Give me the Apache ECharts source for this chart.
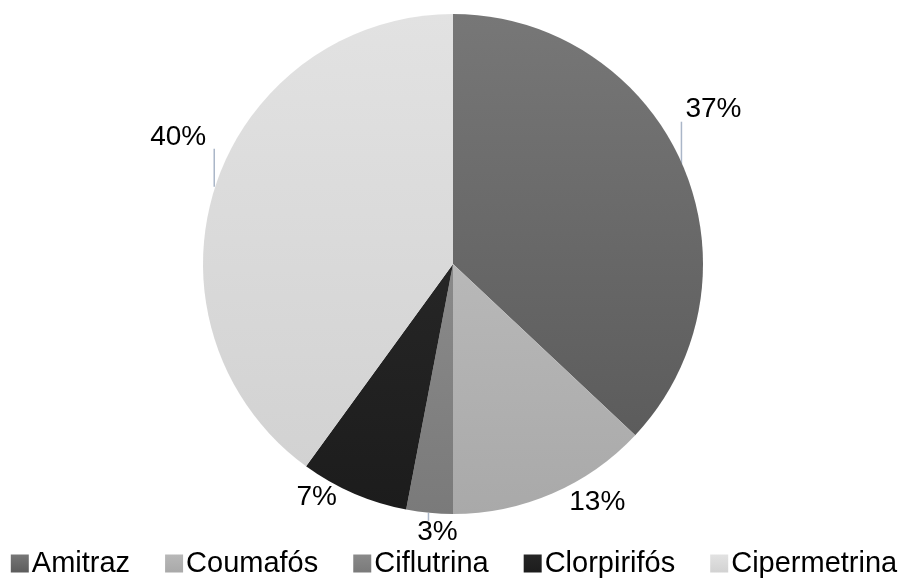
<!DOCTYPE html>
<html><head><meta charset="utf-8">
<script src="https://cdn.jsdelivr.net/npm/echarts@6/dist/echarts.min.js"></script>
<style>html,body{margin:0;padding:0;background:#fff}#c{width:908px;height:582px}</style>
</head><body><div id="c"></div>
<script>
var categories = ['Amitraz', 'Coumafós', 'Ciflutrina', 'Clorpirifós', 'Cipermetrina'];
var values = [37, 13, 3, 7, 40];
var topColors = ['#777777', '#b8b8b8', '#8a8a8a', '#262626', '#e2e2e2'];
var bottomColors = ['#5c5c5c', '#a9a9a9', '#7a7a7a', '#1c1c1c', '#d2d2d2'];

// label placement relative to the slice's outer mid-point (style only)
var labelOffsets = [[31, -55], [45, 9], [8, 19], [-37, 4], [-37, -49]];
var leaderLen = [43, 0, 8, 0, 38];
var leaderDir = [-1, 0, 1, 0, -1];

var CX = 453, CY = 264, R = 250;
var total = values.reduce(function (a, b) { return a + b; }, 0);
function edgePoint(i) {
  var before = 0;
  for (var k = 0; k < i; k++) before += values[k];
  var a = (before + values[i] / 2) / total * 2 * Math.PI; // clockwise from top
  return [CX + R * Math.sin(a), CY - R * Math.cos(a)];
}

var chart = echarts.init(document.getElementById('c'));
var data = categories.map(function (n, i) {
  return {
    name: n, value: values[i],
    itemStyle: {
      color: new echarts.graphic.LinearGradient(0, 0, 0, 1, [
        {offset: 0, color: topColors[i]}, {offset: 1, color: bottomColors[i]}
      ])
    }
  };
});
chart.setOption({
  animation: false,
  legend: {
    data: categories,
    top: 544,
    left: 'center',
    itemWidth: 18, itemHeight: 18,
    itemGap: 35,
    icon: 'rect',
    textStyle: {fontFamily: 'Liberation Sans, Arial', fontSize: 29, color: '#000', padding: [0, 0, 0, -2]}
  },
  series: [{
    type: 'pie',
    center: [CX, CY],
    radius: [0, R],
    startAngle: 90,
    clockwise: true,
    data: data,
    itemStyle: {borderWidth: 0},
    label: {
      show: true,
      position: 'outside',
      formatter: '{d}%',
      fontFamily: 'Liberation Sans, Arial',
      fontSize: 28,
      color: '#000'
    },
    labelLine: {show: true, length: 12, length2: 4, lineStyle: {color: '#aab6c8', width: 1.5}},
    labelLayout: function (p) {
      var i = p.dataIndex;
      var e = edgePoint(i);
      var o = labelOffsets[i];
      var endY = e[1] + leaderDir[i] * leaderLen[i];
      return {
        x: e[0] + o[0], y: e[1] + o[1],
        align: 'center', verticalAlign: 'middle',
        labelLinePoints: [[e[0] - 1, e[1]], [e[0] - 1, endY], [e[0] - 1, endY]]
      };
    }
  }]
});
</script></body></html>
